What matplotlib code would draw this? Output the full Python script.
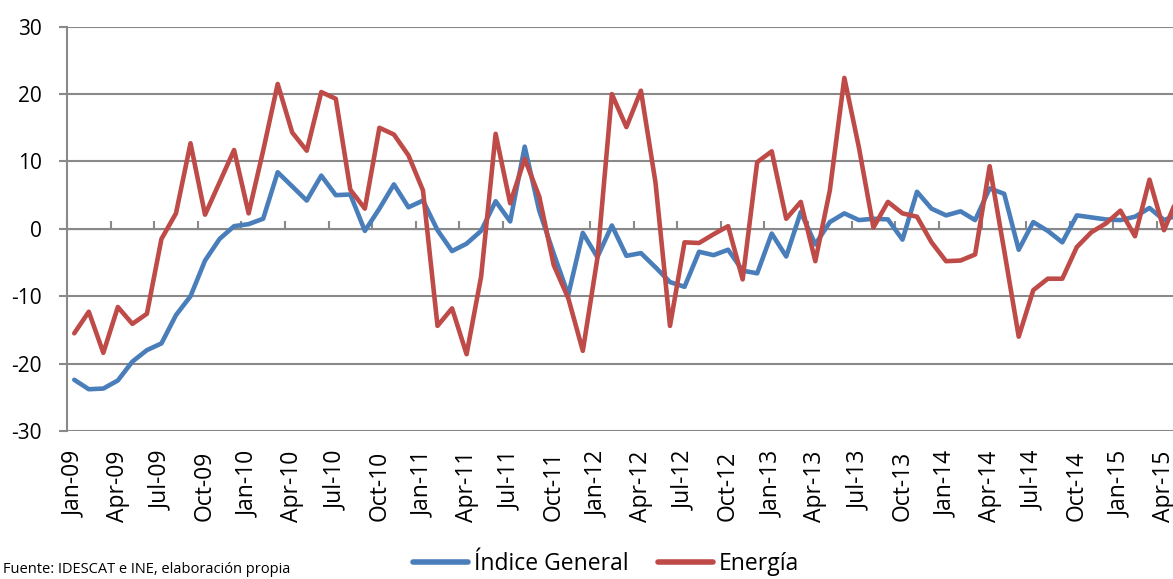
import numpy as np
import matplotlib.pyplot as plt

# Tasa de variación interanual (%), Ene-09 a May-15
indice_general = [-22.4, -23.8, -23.7, -22.5, -19.7, -18.0, -17.0, -12.8, -10.0, -4.7,
                  -1.5, 0.4, 0.7, 1.5, 8.4, 6.3, 4.2, 7.9, 5.0, 5.1,
                  -0.3, 3.0, 6.6, 3.2, 4.2, -0.2, -3.3, -2.2, -0.3, 4.1,
                  1.1, 12.2, 2.7, -3.7, -9.8, -0.6, -4.2, 0.5, -4.0, -3.6,
                  -5.7, -7.9, -8.6, -3.4, -3.9, -3.1, -6.2, -6.6, -0.7, -4.1,
                  2.5, -2.3, 1.0, 2.3, 1.3, 1.5, 1.4, -1.6, 5.5, 3.0,
                  2.0, 2.6, 1.3, 6.0, 5.2, -3.1, 1.0, -0.3, -2.0, 2.0,
                  1.7, 1.4, 1.3, 1.8, 3.1, 1.3, 2.1]
energia = [-15.5, -12.3, -18.4, -11.6, -14.1, -12.6, -1.5, 2.3, 12.7, 2.1,
           6.9, 11.7, 2.3, 11.6, 21.5, 14.3, 11.6, 20.3, 19.3, 5.8,
           3.0, 15.0, 14.0, 10.9, 5.7, -14.4, -11.8, -18.6, -7.1, 14.1,
           3.8, 10.4, 4.8, -5.4, -10.3, -18.1, -4.4, 20.0, 15.1, 20.5,
           6.9, -14.4, -2.0, -2.1, -0.8, 0.4, -7.5, 9.9, 11.5, 1.5,
           4.0, -4.8, 5.7, 22.4, 12.1, 0.2, 4.0, 2.3, 1.8, -2.0,
           -4.8, -4.7, -3.8, 9.3, -3.2, -16.0, -9.1, -7.4, -7.4, -2.7,
           -0.5, 0.8, 2.7, -1.1, 7.3, -0.2, 5.0]
etiquetas = ['Jan-09', 'Apr-09', 'Jul-09', 'Oct-09', 'Jan-10', 'Apr-10', 'Jul-10',
             'Oct-10', 'Jan-11', 'Apr-11', 'Jul-11', 'Oct-11', 'Jan-12', 'Apr-12',
             'Jul-12', 'Oct-12', 'Jan-13', 'Apr-13', 'Jul-13', 'Oct-13', 'Jan-14',
             'Apr-14', 'Jul-14', 'Oct-14', 'Jan-15', 'Apr-15']

plt.rcParams['font.family'] = ['Open Sans', 'DejaVu Sans']
plt.rcParams['axes.unicode_minus'] = False

AZUL = '#4a7ebb'
ROJO = '#be4b48'
GRIS = '#898989'

n = len(energia)
x = np.arange(n)

fig = plt.figure(figsize=(11.73, 5.79), dpi=100)
# el área de trazado sigue más allá del borde derecho (imagen recortada)
ancho_mes = 14.53 / 1173
ax = fig.add_axes([67 / 1173, 148 / 579, n * ancho_mes, 404.3 / 579])

ax.plot(x, indice_general, color=AZUL, lw=3.3, solid_capstyle='round',
        solid_joinstyle='round', label='Índice General')
ax.plot(x, energia, color=ROJO, lw=3.3, solid_capstyle='round',
        solid_joinstyle='round', label='Energía')

ax.set_xlim(-0.5, n - 0.5)
ax.set_ylim(-30, 30)
ax.set_yticks(np.arange(-30, 31, 10))
ax.yaxis.grid(True, color=GRIS, lw=1.5)
ax.set_axisbelow(True)

for s in ['top', 'right', 'bottom']:
    ax.spines[s].set_visible(False)
ax.spines['left'].set_color(GRIS)
ax.spines['left'].set_linewidth(1.5)
ax.tick_params(axis='y', direction='out', length=6, width=1.5, color=GRIS,
               pad=12, labelsize=15, labelcolor='black')

ax.set_xticks(np.arange(0, n, 3))
ax.set_xticklabels(etiquetas[:len(range(0, n, 3))], rotation=90)
ax.tick_params(axis='x', length=0, pad=14, labelsize=16.5)

# eje de categorías cruzando en 0, con marcas cada trimestre
eje0 = ax.secondary_xaxis(0.5)
eje0.set_xticks(np.arange(-0.5, n, 3))
eje0.set_xticklabels([])
eje0.spines['bottom'].set_color(GRIS)
eje0.spines['bottom'].set_linewidth(1.5)
eje0.tick_params(direction='out', length=6, width=1.5, color=GRIS)

leg = fig.legend(loc='center', bbox_to_anchor=(606 / 1173, 15 / 579), ncol=2,
                 frameon=False, fontsize=16.5, handlelength=2.4, handletextpad=0.25,
                 columnspacing=1.3, borderpad=0)
for linea in leg.get_lines():
    linea.set_linewidth(4)

fig.text(3 / 1173, 2 / 579, 'Fuente: IDESCAT e INE, elaboración propia',
         fontsize=10.5, va='bottom', ha='left')

fig.savefig('out.png', dpi=100)
